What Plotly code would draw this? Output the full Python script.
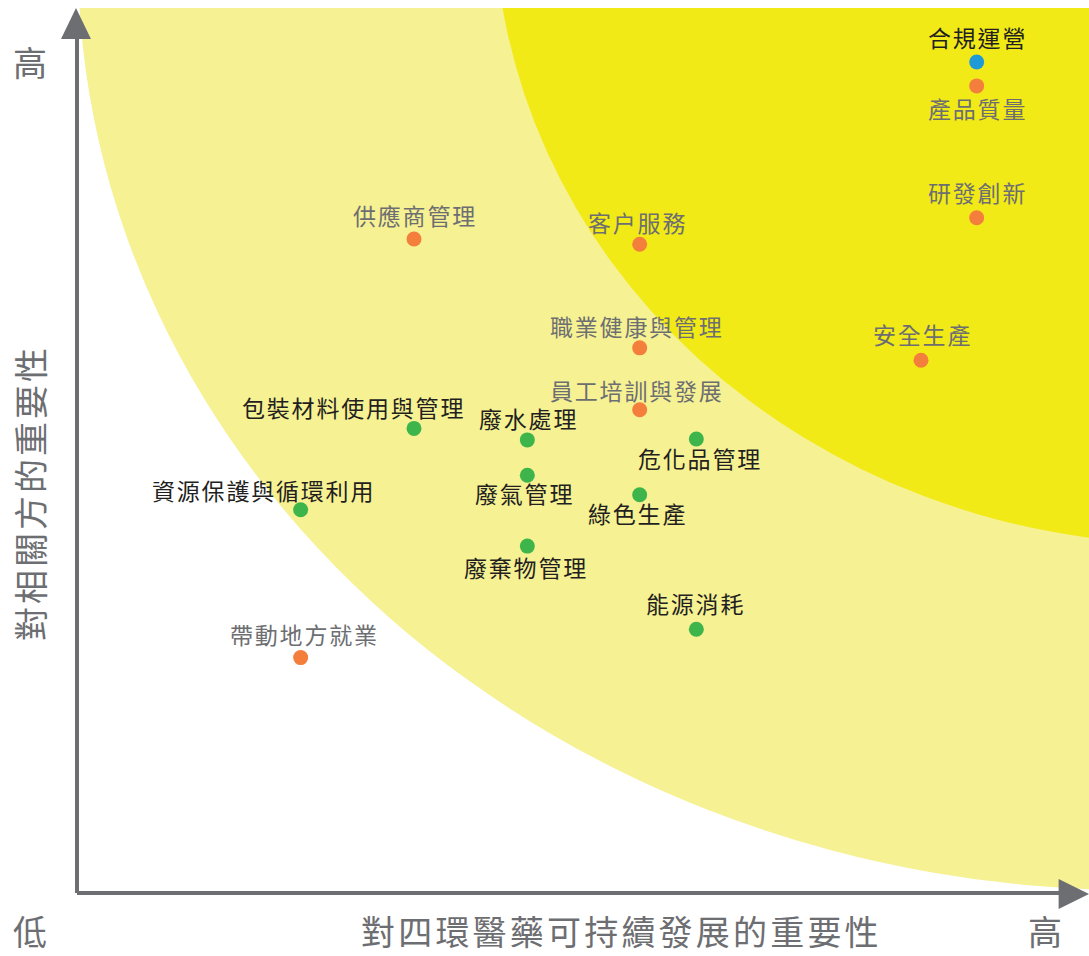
import plotly.graph_objects as go

# ---------------- data ----------------
topics = ["合規運營", "產品質量", "研發創新", "客户服務", "供應商管理", "職業健康與管理",
          "安全生產", "員工培訓與發展", "包裝材料使用與管理", "廢水處理", "危化品管理",
          "廢氣管理", "綠色生產", "資源保護與循環利用", "廢棄物管理", "能源消耗", "帶動地方就業"]
importance_business = [8.89, 8.89, 8.89, 5.56, 3.33, 5.56, 8.34, 5.56, 3.33, 4.45, 6.12,
                       4.45, 5.56, 2.21, 4.45, 6.12, 2.21]
importance_stakeholders = [9.39, 9.12, 7.63, 7.33, 7.39, 6.16, 6.02, 5.46, 5.25, 5.12, 5.13,
                           4.72, 4.50, 4.33, 3.92, 2.98, 2.66]
category = ["governance", "product", "product", "product", "product", "social",
            "social", "social", "environment", "environment", "environment",
            "environment", "environment", "environment", "environment", "environment", "social"]

x_title = "對四環醫藥可持續發展的重要性"
y_title = "對相關方的重要性"
low_label = "低"
high_label = "高"

# ---------------- styling ----------------
GREY = "#6D6E71"
BLACK = "#231F20"
FONT = "Noto Sans CJK TC"
cat_color = {"governance": "#1E9AD6", "product": "#F47F3D", "social": "#F47F3D",
             "environment": "#3DB54A"}
cat_text = {"governance": BLACK, "product": GREY, "social": GREY, "environment": BLACK}
# label placement (xshift, yshift) in px relative to the dot
label_shift = [(0, 25), (0, -22), (0, 26), (-3, 22), (0, 24), (-4, 22), (0, 26), (-4, 20),
               (-62, 21), (0, 22), (3, -19), (-4, -18), (-3, -18), (-38, 20), (-2, -21),
               (-2, 26), (3, 24)]


def spaced(txt, px):
    return '<span style="letter-spacing:%spx">%s</span>' % (px, txt)


fig = go.Figure()
fig.add_trace(go.Scatter(
    x=importance_business, y=importance_stakeholders, mode="markers",
    marker=dict(size=15, color=[cat_color[c] for c in category], line=dict(width=0)),
    hovertext=topics, hoverinfo="text", showlegend=False, cliponaxis=False))

annotations = []
for t, xv, yv, c, (dx, dy) in zip(topics, importance_business, importance_stakeholders,
                                   category, label_shift):
    annotations.append(dict(x=xv, y=yv, xref="x", yref="y", text=spaced(t, 1.8),
                            showarrow=False, xshift=dx + 1, yshift=dy,
                            xanchor="center", yanchor="middle",
                            font=dict(family=FONT, size=23, color=cat_text[c])))

ax_font = dict(family=FONT, size=34, color=GREY)
BOTTOM_Y = -0.0429
annotations += [
    dict(x=0.5356, y=BOTTOM_Y, xref="paper", yref="paper", text=spaced(x_title, 3.2),
         showarrow=False, xshift=2, xanchor="center", yanchor="middle", font=ax_font),
    dict(x=-0.0464, y=BOTTOM_Y, xref="paper", yref="paper", text=low_label, showarrow=False,
         xanchor="center", yanchor="middle", font=ax_font),
    dict(x=0.9565, y=BOTTOM_Y, xref="paper", yref="paper", text=high_label, showarrow=False,
         xanchor="center", yanchor="middle", font=ax_font),
    dict(x=-0.0464, y=0.939, xref="paper", yref="paper", text=high_label, showarrow=False,
         xanchor="center", yanchor="middle", font=ax_font),
    dict(x=-0.0464, y=0.452, xref="paper", yref="paper", text=spaced(y_title, 3),
         showarrow=False, textangle=-90, xanchor="center", yanchor="middle", font=ax_font),
]

shapes = [
    # pale yellow zone
    dict(type="circle", xref="x", yref="y", x0=0.01, x1=20.98, y0=0.03, y1=21.11,
         fillcolor="#F6F193", line=dict(width=0), layer="below"),
    # bright yellow zone
    dict(type="circle", xref="x", yref="y", x0=4.12, x1=17.86, y0=3.94, y1=18.32,
         fillcolor="#F2EA17", line=dict(width=0), layer="below"),
    # axes
    dict(type="line", xref="paper", yref="paper", x0=0, x1=0, y0=0, y1=0.966,
         line=dict(color=GREY, width=4), layer="above"),
    dict(type="line", xref="paper", yref="paper", x0=0, x1=0.971, y0=0, y1=0,
         line=dict(color=GREY, width=4), layer="above"),
    dict(type="path", xref="paper", yref="paper",
         path="M -0.0158 0.965 L -0.001 1.0 L 0.0138 0.965 Z",
         fillcolor=GREY, line=dict(width=0), layer="above"),
    dict(type="path", xref="paper", yref="paper",
         path="M 0.970 0.0158 L 1.0 -0.001 L 0.970 -0.018 Z",
         fillcolor=GREY, line=dict(width=0), layer="above"),
]

fig.update_layout(
    width=1089, height=956, autosize=False,
    margin=dict(l=77, r=0, t=8, b=63, pad=0),
    paper_bgcolor="white", plot_bgcolor="white",
    xaxis=dict(range=[0, 10], showgrid=False, zeroline=False, showticklabels=False,
               showline=False, fixedrange=True),
    yaxis=dict(range=[0, 10], showgrid=False, zeroline=False, showticklabels=False,
               showline=False, fixedrange=True),
    shapes=shapes, annotations=annotations,
    font=dict(family=FONT),
)

fig.write_html("out.html", config={"displayModeBar": False})
